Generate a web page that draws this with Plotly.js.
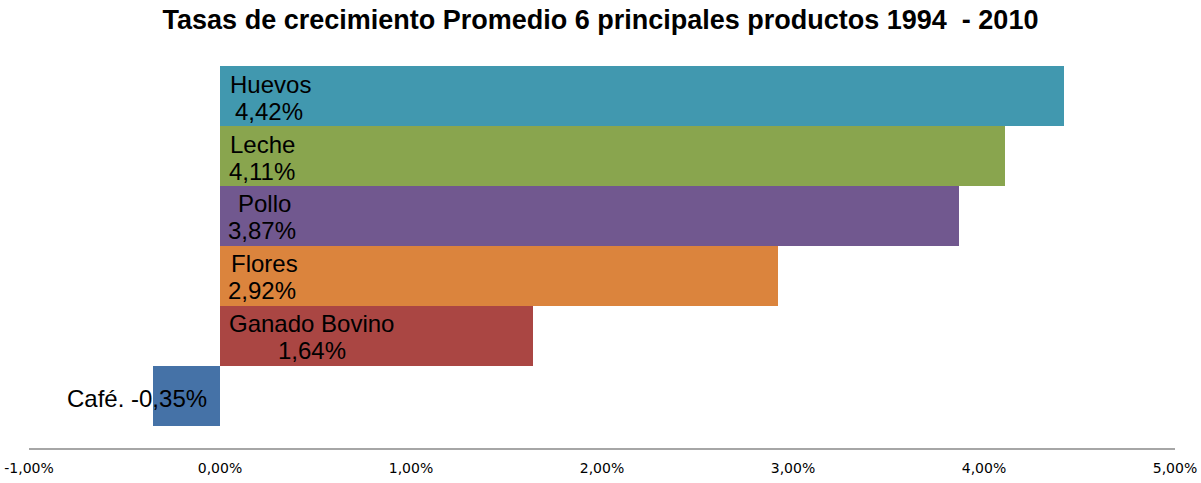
<!DOCTYPE html>
<html>
<head>
<meta charset="utf-8">
<script src="https://cdn.plot.ly/plotly-3.0.1.min.js"></script>
<style>html,body{margin:0;padding:0;background:#fff;}#chart{width:1201px;height:483px;}</style>
</head>
<body>
<div id="chart"></div>
<script>
const categories = ["Café.", "Ganado Bovino", "Flores", "Pollo", "Leche", "Huevos"];
const values = [-0.35, 1.64, 2.92, 3.87, 4.11, 4.42];
const colors = ["#4572A7", "#AA4643", "#DB843D", "#71588F", "#89A54E", "#4198AF"];
const tickValues = [-1, 0, 1, 2, 3, 4, 5];
const tickLabels = ["-1,00%", "0,00%", "1,00%", "2,00%", "3,00%", "4,00%", "5,00%"];

const fmt = v => v.toFixed(2).replace('.', ',') + '%';

// label placement (pixel offsets from the 0 line), kept apart from the data
const labelPlacement = {
  "Café.":         {inline: true},
  "Ganado Bovino": {nameShift: 8,  valueShift: 57},
  "Flores":        {nameShift: 10, valueShift: 7},
  "Pollo":         {nameShift: 17, valueShift: 7},
  "Leche":         {nameShift: 9,  valueShift: 8},
  "Huevos":        {nameShift: 9,  valueShift: 14}
};

const labelFont = {family: 'Liberation Sans, Arial, sans-serif', size: 24, color: '#000'};
const annotations = [];
categories.forEach((c, i) => {
  const p = labelPlacement[c] || {};
  const base = {x: 0, y: c, xref: 'x', yref: 'y', showarrow: false, font: labelFont, yanchor: 'middle'};
  if (p.inline) {
    annotations.push(Object.assign({}, base, {text: c + ' ' + fmt(values[i]), xanchor: 'right', xshift: -11, yshift: -3}));
  } else {
    annotations.push(Object.assign({}, base, {text: c, xanchor: 'left', xshift: p.nameShift - 1, yshift: 12}));
    annotations.push(Object.assign({}, base, {text: fmt(values[i]), xanchor: 'left', xshift: p.valueShift - 1, yshift: -15}));
  }
});

const trace = {
  type: 'bar', orientation: 'h',
  x: values, y: categories,
  marker: {color: colors, line: {width: 0}},
  hoverinfo: 'skip'
};

const layout = {
  width: 1201, height: 483,
  margin: {l: 29, r: 26, t: 66, b: 35, pad: 0},
  paper_bgcolor: '#fff', plot_bgcolor: '#fff',
  bargap: 0,
  showlegend: false,
  title: {
    text: '<b>Tasas de crecimiento Promedio 6 principales productos 1994  - 2010</b>',
    font: {family: 'Liberation Sans, Arial, sans-serif', size: 27, color: '#000'},
    x: 0.5, xanchor: 'center', y: 0.96, yanchor: 'middle'
  },
  xaxis: {
    range: [-1, 5], tickvals: tickValues, ticktext: tickLabels,
    showgrid: false, zeroline: false,
    showline: true, linecolor: '#A6A6A6', linewidth: 2,
    ticks: '', ticklen: 0, ticklabelstandoff: 6,
    tickfont: {family: 'DejaVu Sans, Verdana, sans-serif', size: 14, color: '#000'},
    fixedrange: true
  },
  yaxis: {
    type: 'category', categoryorder: 'array', categoryarray: categories,
    range: [-0.867, 5.5],
    showgrid: false, zeroline: false, showline: false,
    showticklabels: false, ticks: '', fixedrange: true
  },
  annotations: annotations
};

Plotly.newPlot('chart', [trace], layout, {displayModeBar: false, staticPlot: true});
</script>
</body>
</html>
